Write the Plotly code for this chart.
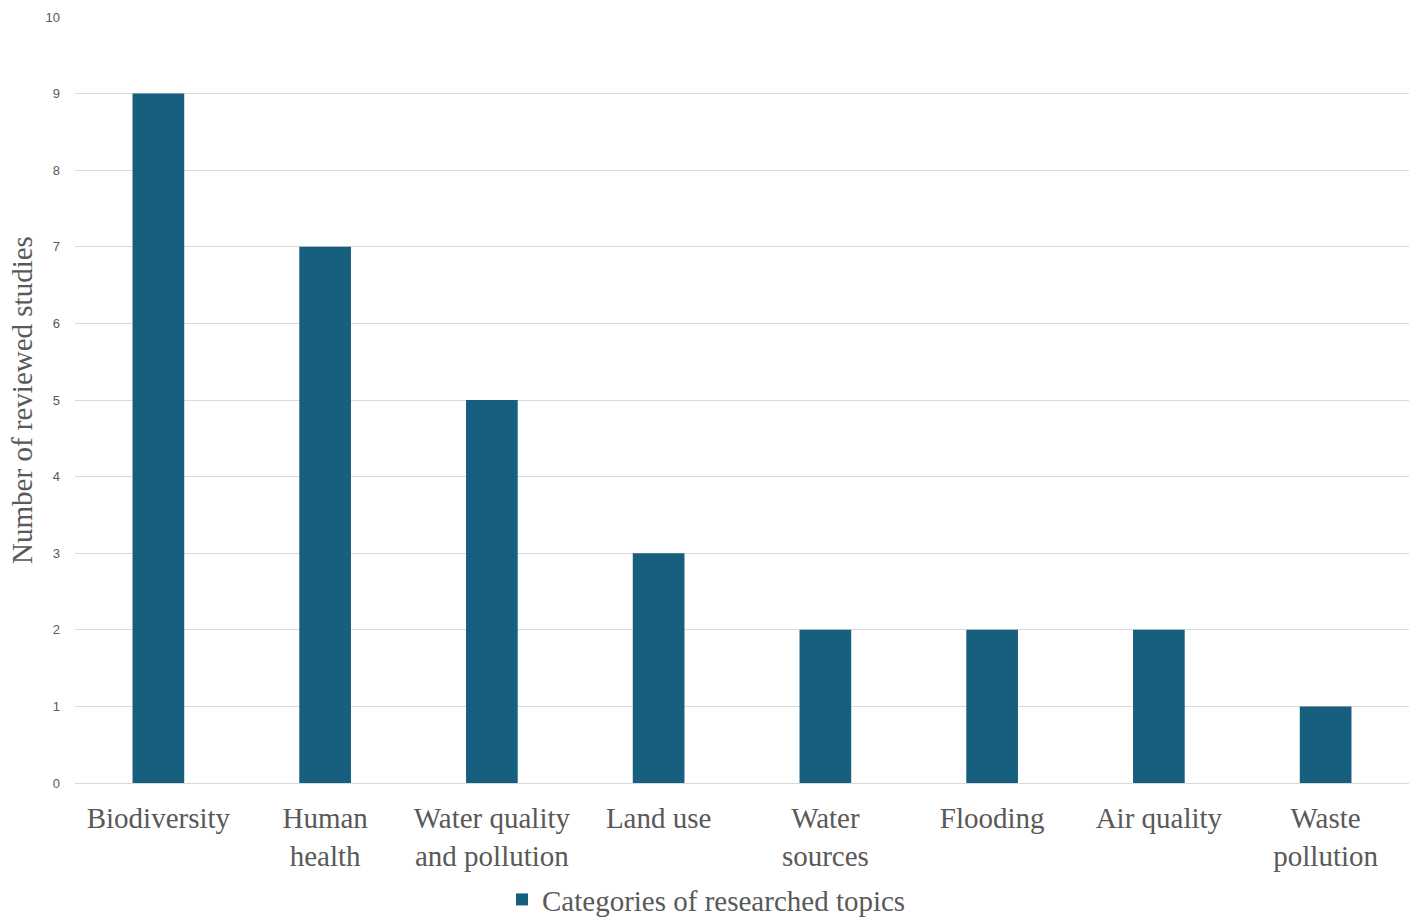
import plotly.graph_objects as go

categories = ["Biodiversity", "Human<br>health", "Water quality<br>and pollution", "Land use",
              "Water<br>sources", "Flooding", "Air quality", "Waste<br>pollution"]
counts = [9, 7, 5, 3, 2, 2, 2, 1]
series_name = "Categories of researched topics"
y_ticks = list(range(0, 11))

serif = "Liberation Serif, Times New Roman, serif"
sans = "Liberation Sans, Arial, sans-serif"
text_grey = "#595959"

fig = go.Figure(
    go.Bar(
        x=categories,
        y=counts,
        name=series_name,
        marker=dict(color="#165f7f", line=dict(width=0)),
        width=0.31,
        showlegend=True,
    )
)

fig.update_layout(
    width=1413,
    height=917,
    margin=dict(l=75, r=4, t=17, b=134, autoexpand=False),
    paper_bgcolor="white",
    plot_bgcolor="white",
    showlegend=True,
    legend=dict(
        orientation="h",
        xref="container",
        yref="container",
        x=0.5,
        xanchor="center",
        y=0.019,
        yanchor="middle",
        font=dict(family=serif, size=29, color=text_grey),
    ),
    xaxis=dict(
        tickfont=dict(family=serif, size=29, color=text_grey),
        showline=False,
        showgrid=False,
        ticks="",
        tickangle=0,
        ticklabelstandoff=15,
    ),
    yaxis=dict(
        range=[0, 10],
        tickvals=y_ticks,
        tickfont=dict(family=sans, size=13, color=text_grey),
        gridcolor="#d9d9d9",
        gridwidth=1.3,
        zeroline=True,
        zerolinecolor="#d9d9d9",
        zerolinewidth=1.3,
        showline=False,
        ticks="",
        ticklabelstandoff=14,
        title=dict(
            text="Number of reviewed studies",
            font=dict(family=serif, size=29, color=text_grey),
            standoff=4,
        ),
    ),
)

fig.write_html("out.html")
